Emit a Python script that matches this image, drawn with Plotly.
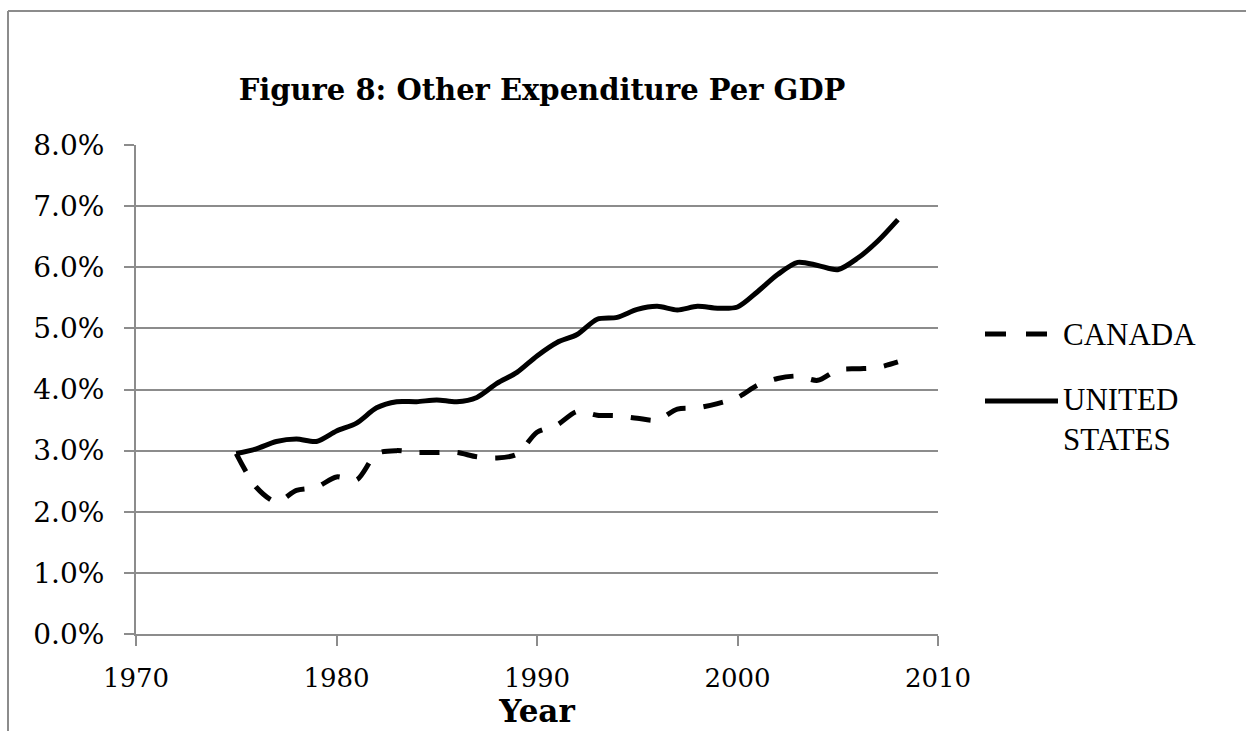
import plotly.graph_objects as go

# Annual series, share of GDP
years = list(range(1975, 2009))
canada = [0.0295, 0.0240, 0.0216, 0.0235, 0.0240, 0.0257, 0.0252, 0.0295, 0.0300, 0.0297,
          0.0297, 0.0297, 0.0290, 0.0288, 0.0294, 0.0330, 0.0342, 0.0364, 0.0358, 0.0357,
          0.0353, 0.0350, 0.0368, 0.0370, 0.0377, 0.0387, 0.0407, 0.0418, 0.0422, 0.0415,
          0.0432, 0.0434, 0.0436, 0.0445]
united_states = [0.0295, 0.0303, 0.0315, 0.0319, 0.0315, 0.0332, 0.0345, 0.0370, 0.0380, 0.0380,
                 0.0383, 0.0380, 0.0387, 0.0410, 0.0428, 0.0455, 0.0477, 0.0490, 0.0515, 0.0518,
                 0.0531, 0.0536, 0.0530, 0.0536, 0.0533, 0.0535, 0.0560, 0.0588, 0.0608, 0.0603,
                 0.0596, 0.0615, 0.0643, 0.0678]

x_ticks = [1970, 1980, 1990, 2000, 2010]
series_names = ["CANADA", "UNITED<br>STATES"]

title_text = "Figure 8: Other Expenditure Per GDP"
x_title = "Year"

# Page geometry (pixels)
W, H = 1246, 731
L, R, T, B = 136, 938, 145, 634
GRAY = "#8c8c8c"
SERIF = "DejaVu Serif"
TIMES = "Liberation Serif"


def px(xp):
    return (xp - L) / (R - L)


def py(yp):
    return (B - yp) / (B - T)


fig = go.Figure()
fig.add_trace(go.Scatter(x=years, y=canada, mode="lines", name="CANADA", showlegend=False,
                         line=dict(color="black", width=5, dash="20px,18px",
                                   shape="spline", smoothing=0.8)))
fig.add_trace(go.Scatter(x=years, y=united_states, mode="lines", name="UNITED STATES",
                         showlegend=False,
                         line=dict(color="black", width=5, shape="spline", smoothing=0.8)))

shapes = [
    # outer frame
    dict(type="line", xref="paper", yref="paper", x0=px(8), x1=px(W + 5), y0=py(11), y1=py(11),
         line=dict(color=GRAY, width=2)),
    dict(type="line", xref="paper", yref="paper", x0=px(8), x1=px(8), y0=py(11), y1=py(H + 5),
         line=dict(color=GRAY, width=2)),
    # legend keys
    dict(type="line", xref="paper", yref="paper", x0=px(985), x1=px(1047), y0=py(334), y1=py(334),
         line=dict(color="black", width=5, dash="21px,20px")),
    dict(type="line", xref="paper", yref="paper", x0=px(985), x1=px(1058), y0=py(401), y1=py(401),
         line=dict(color="black", width=5)),
]

annotations = [
    dict(text=series_names[0], xref="paper", yref="paper", x=px(1061), y=py(334), xanchor="left",
         yanchor="middle", showarrow=False, font=dict(family=TIMES, size=31, color="black")),
    dict(text=series_names[1], xref="paper", yref="paper", x=px(1061), y=py(419),
         xanchor="left", yanchor="middle", align="left", showarrow=False,
         font=dict(family=TIMES, size=31, color="black")),
]

fig.update_layout(
    width=W, height=H,
    margin=dict(l=L, r=W - R, t=T, b=H - B, autoexpand=False),
    paper_bgcolor="white", plot_bgcolor="white",
    title=dict(text="<b>" + title_text + "</b>", x=542 / W, xanchor="center", xref="container",
               y=1 - 90 / H, yanchor="middle", yref="container",
               font=dict(family=SERIF, size=29, color="black")),
    xaxis=dict(range=[1970, 2010], tickvals=x_ticks, showgrid=False, zeroline=False,
               showline=True, linecolor=GRAY, linewidth=2, ticks="outside", ticklen=10,
               tickcolor=GRAY, tickwidth=1.5, ticklabelstandoff=10,
               tickfont=dict(family=SERIF, size=26, color="black"),
               title=dict(text="<b>" + x_title + "</b>", standoff=6,
                          font=dict(family=SERIF, size=31, color="black"))),
    yaxis=dict(range=[0, 0.08], dtick=0.01, tickformat=".1%", showgrid=True,
               gridcolor=GRAY, gridwidth=2, zeroline=False, showline=True, linecolor=GRAY,
               linewidth=2, ticks="outside", ticklen=10, tickcolor=GRAY, tickwidth=1.5,
               ticklabelstandoff=14,
               tickfont=dict(family=SERIF, size=28, color="black")),
    shapes=shapes,
    annotations=annotations,
)

fig.write_html("out.html")
